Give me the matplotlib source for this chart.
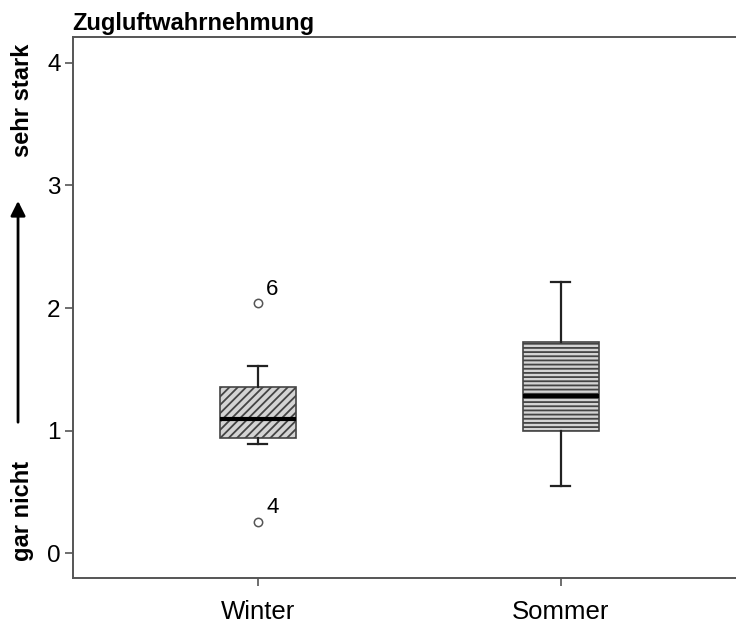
import matplotlib
matplotlib.use('Agg')
import matplotlib.pyplot as plt

plt.rcParams['font.family'] = ['Liberation Sans', 'DejaVu Sans']
plt.rcParams['hatch.linewidth'] = 1.3

# values
groups = ['Winter', 'Sommer']
positions = [1, 2]
q1 = [0.94, 1.00]
medians = [1.10, 1.28]
q3 = [1.355, 1.725]
whis_lo = [0.89, 0.55]
whis_hi = [1.53, 2.21]
fliers = [[2.04, 0.26], []]
flier_ids = [['6', '4'], []]
hatches = ['////', '----']

stats = []
for i in range(len(groups)):
    stats.append({'med': medians[i], 'q1': q1[i], 'q3': q3[i],
                  'whislo': whis_lo[i], 'whishi': whis_hi[i],
                  'fliers': fliers[i], 'label': groups[i]})

fig = plt.figure(figsize=(7.36, 6.25), dpi=100)
ax = fig.add_axes([0.0992, 0.0752, 0.914, 0.8656])

bp = ax.bxp(stats, positions=positions, widths=0.25, capwidths=0.063,
            patch_artist=True,
            boxprops=dict(facecolor='#d4d4d4', edgecolor='#444444', linewidth=1.2),
            medianprops=dict(color='black', linewidth=3),
            whiskerprops=dict(color='#222222', linewidth=1.6),
            capprops=dict(color='#222222', linewidth=1.6),
            flierprops=dict(marker='o', markersize=6, markerfacecolor='white',
                            markeredgecolor='#555555', markeredgewidth=1.1))

for box, h in zip(bp['boxes'], hatches):
    box.set_hatch(h)

# outlier case numbers
for pos, vals, ids in zip(positions, fliers, flier_ids):
    for v, t in zip(vals, ids):
        ax.text(pos + 0.027, v + 0.03, t, fontsize=16, ha='left', va='bottom')

ax.set_xlim(0.39, 2.61)
ax.set_ylim(-0.2, 4.21)
ax.set_yticks([0, 1, 2, 3, 4])
ax.set_xticks(positions)
ax.set_xticklabels(groups)
ax.tick_params(axis='y', labelsize=17.5, length=6, width=1.2, color='#555555', pad=3)
ax.tick_params(axis='x', labelsize=18.5, length=6, width=1.2, color='#555555', pad=10)
for s in ax.spines.values():
    s.set_color('#555555')
    s.set_linewidth(1.4)

fig.text(0.0975, 0.952, 'Zugluftwahrnehmung', fontsize=17, fontweight='bold',
         ha='left', va='baseline')

# scale annotation on the left
fig.text(0.030, 0.84, 'sehr stark', rotation=90, fontsize=17, fontweight='bold',
         ha='center', va='center')
fig.text(0.030, 0.182, 'gar nicht', rotation=90, fontsize=17, fontweight='bold',
         ha='center', va='center')
ax.annotate('', xy=(0.0245, 0.683), xycoords='figure fraction',
            xytext=(0.0245, 0.32), textcoords='figure fraction',
            arrowprops=dict(arrowstyle='-|>', color='black', lw=2,
                            mutation_scale=22))

fig.savefig('out.png', dpi=100)
